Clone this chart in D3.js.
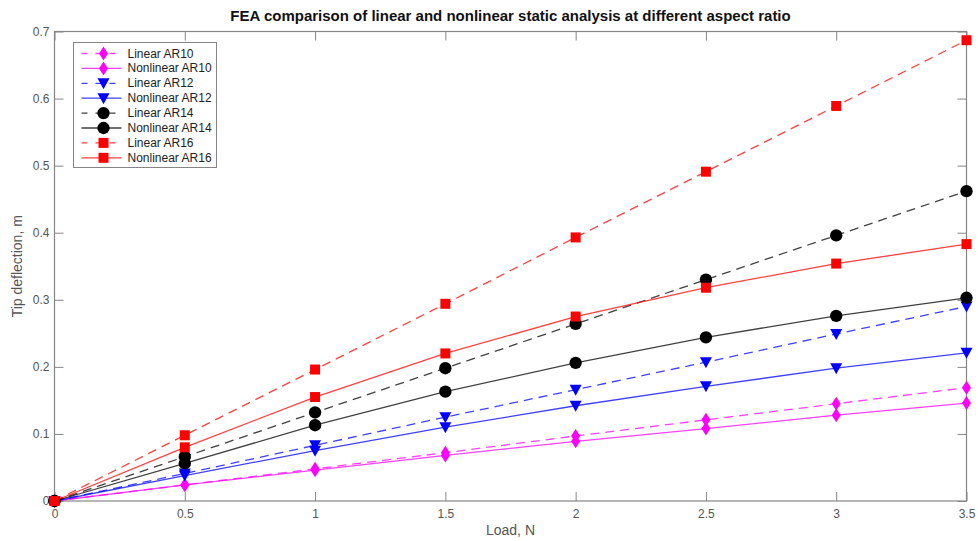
<!DOCTYPE html>
<html>
<head>
<meta charset="utf-8">
<script src="https://cdn.jsdelivr.net/npm/d3@7"></script>
<style>
  body { margin: 0; background: #fff; }
  svg { font-family: "Liberation Sans", Arial, sans-serif; }
</style>
</head>
<body>
<div id="chart"></div>
<script>
// load steps (N)
var loads = [0, 0.5, 1, 1.5, 2, 2.5, 3, 3.5];

// tip deflection (m)
var linearAR10    = [0, 0.024, 0.048, 0.072, 0.097, 0.121, 0.145, 0.169];
var nonlinearAR10 = [0, 0.024, 0.046, 0.068, 0.089, 0.108, 0.128, 0.146];
var linearAR12    = [0, 0.041, 0.083, 0.125, 0.166, 0.207, 0.249, 0.290];
var nonlinearAR12 = [0, 0.038, 0.075, 0.110, 0.142, 0.171, 0.198, 0.221];
var linearAR14    = [0, 0.066, 0.132, 0.198, 0.264, 0.330, 0.396, 0.462];
var nonlinearAR14 = [0, 0.056, 0.113, 0.163, 0.206, 0.244, 0.276, 0.303];
var linearAR16    = [0, 0.098, 0.196, 0.294, 0.393, 0.491, 0.589, 0.687];
var nonlinearAR16 = [0, 0.080, 0.155, 0.220, 0.275, 0.318, 0.354, 0.383];

var seriesNames = ["Linear AR10", "Nonlinear AR10", "Linear AR12", "Nonlinear AR12",
                   "Linear AR14", "Nonlinear AR14", "Linear AR16", "Nonlinear AR16"];
var seriesValues = [linearAR10, nonlinearAR10, linearAR12, nonlinearAR12,
                    linearAR14, nonlinearAR14, linearAR16, nonlinearAR16];
var seriesColors = ["#ff00ff", "#ff00ff", "#0000ff", "#0000ff",
                    "#000000", "#000000", "#ff0000", "#ff0000"];
var seriesMarkers = ["diamond", "diamond", "triangle", "triangle",
                     "circle", "circle", "square", "square"];

var xTicks = [0, 0.5, 1, 1.5, 2, 2.5, 3, 3.5];
var yTicks = [0, 0.1, 0.2, 0.3, 0.4, 0.5, 0.6, 0.7];

var width = 978, height = 541;
var margin = {left: 54.5, right: 11.5, top: 31.5, bottom: 40};
var plotW = width - margin.left - margin.right;
var plotH = height - margin.top - margin.bottom;
var axisColor = "#858585";
var textColor = "#555";

var svg = d3.select("#chart").append("svg")
  .attr("width", width)
  .attr("height", height);

var xScale = d3.scaleLinear().domain([0, 3.5]).range([0, plotW]);
var yScale = d3.scaleLinear().domain([0, 0.7]).range([plotH, 0]);

var group = svg.append("g")
  .attr("transform", "translate(" + margin.left + "," + margin.top + ")");

// axes, ticks pointing inward like matlab
function styleAxis(g) {
  g.select(".domain").remove();
  g.selectAll(".tick line").attr("stroke", axisColor);
  g.selectAll(".tick text").attr("fill", textColor).style("font-size", "12px");
}

group.append("g")
  .attr("transform", "translate(0," + plotH + ")")
  .call(d3.axisBottom(xScale).tickValues(xTicks).tickSize(-9).tickPadding(8)
        .tickFormat(d3.format("")))
  .call(styleAxis);

group.append("g")
  .call(d3.axisTop(xScale).tickValues(xTicks).tickSize(-9).tickFormat(""))
  .call(styleAxis);

group.append("g")
  .call(d3.axisLeft(yScale).tickValues(yTicks).tickSize(-9).tickPadding(5)
        .tickFormat(d3.format("")))
  .call(styleAxis);

group.append("g")
  .attr("transform", "translate(" + plotW + ",0)")
  .call(d3.axisRight(yScale).tickValues(yTicks).tickSize(-9).tickFormat(""))
  .call(styleAxis);

group.append("rect")
  .attr("width", plotW).attr("height", plotH)
  .attr("fill", "none").attr("stroke", axisColor).attr("stroke-width", 1.2);

// marker symbols
function markerPath(kind) {
  if (kind === "diamond") return "M0,-7L4.5,0L0,7L-4.5,0Z";
  if (kind === "triangle") return "M-6,-5L6,-5L0,6Z";
  if (kind === "square") return "M-5,-5L5,-5L5,5L-5,5Z";
  return d3.symbol().type(d3.symbolCircle).size(120)();
}

var line = d3.line()
  .x(function(d, i) { return xScale(loads[i]); })
  .y(function(d) { return yScale(d); });

seriesValues.forEach(function(vals, s) {
  var dashed = seriesNames[s].indexOf("Nonlinear") !== 0;
  var g = group.append("g");
  g.append("path")
    .datum(vals)
    .attr("d", line)
    .attr("fill", "none")
    .attr("stroke", seriesColors[s])
    .attr("stroke-opacity", 0.75)
    .attr("stroke-width", 1.3)
    .attr("stroke-dasharray", dashed ? "9,6" : null);
  g.selectAll("path.mk").data(vals).enter().append("path")
    .attr("class", "mk")
    .attr("transform", function(d, i) { return "translate(" + xScale(loads[i]) + "," + yScale(d) + ")"; })
    .attr("d", markerPath(seriesMarkers[s]))
    .attr("fill", seriesColors[s]);
});

// legend
var legend = svg.append("g").attr("transform", "translate(73.5,42.5)");
legend.append("rect")
  .attr("width", 143).attr("height", 125)
  .attr("fill", "#fff").attr("stroke", axisColor);

seriesNames.forEach(function(name, s) {
  var dashed = name.indexOf("Nonlinear") !== 0;
  var ly = 11 + s * 14.9;
  legend.append("line")
    .attr("x1", 8).attr("x2", 48).attr("y1", ly).attr("y2", ly)
    .attr("stroke", seriesColors[s])
    .attr("stroke-opacity", 0.75)
    .attr("stroke-width", 1.3)
    .attr("stroke-dasharray", dashed ? "6,8" : null);
  legend.append("path")
    .attr("transform", "translate(30," + ly + ")")
    .attr("d", markerPath(seriesMarkers[s]))
    .attr("fill", seriesColors[s]);
  legend.append("text")
    .attr("x", 54).attr("y", ly + 4)
    .style("font-size", "12px")
    .attr("fill", "#222")
    .text(name);
});

// titles
svg.append("text")
  .attr("x", margin.left + plotW / 2).attr("y", 21)
  .attr("text-anchor", "middle")
  .style("font-size", "15px").style("font-weight", "bold")
  .attr("fill", "#111")
  .text("FEA comparison of linear and nonlinear static analysis at different aspect ratio");

svg.append("text")
  .attr("x", margin.left + plotW / 2).attr("y", 535)
  .attr("text-anchor", "middle")
  .style("font-size", "14px")
  .attr("fill", textColor)
  .text("Load, N");

svg.append("text")
  .attr("transform", "translate(22," + (margin.top + plotH / 2) + ")rotate(-90)")
  .attr("text-anchor", "middle")
  .style("font-size", "14px")
  .attr("fill", textColor)
  .text("Tip deflection, m");
</script>
</body>
</html>
